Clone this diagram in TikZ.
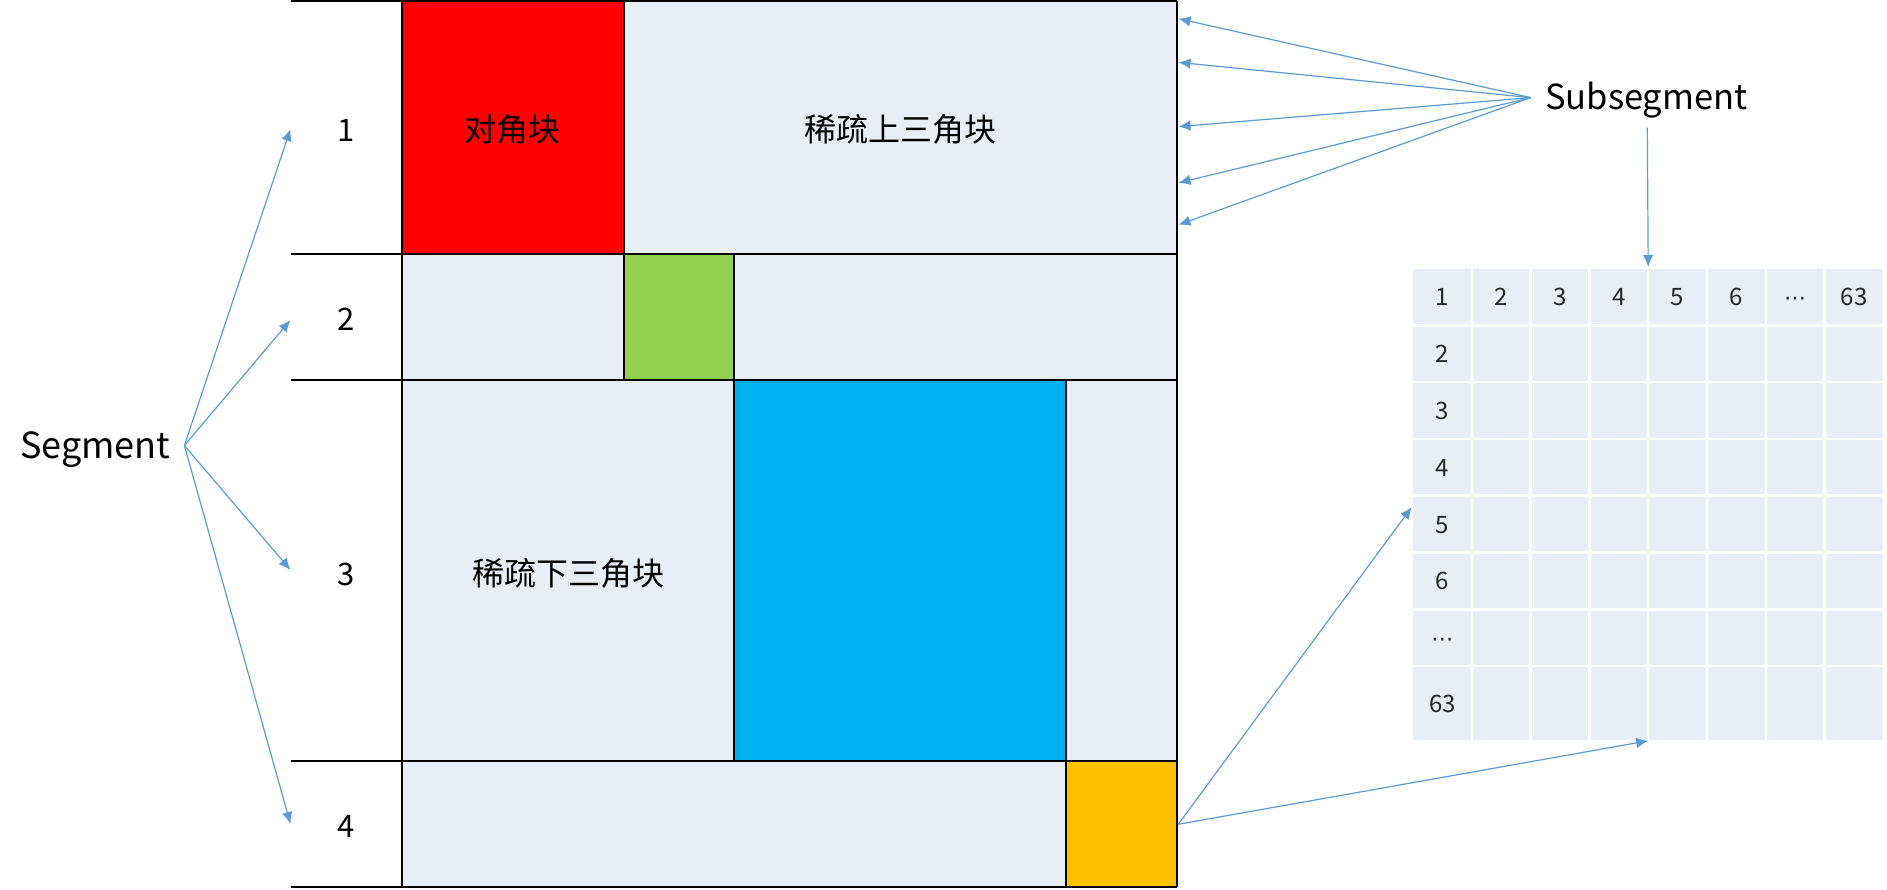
\documentclass[tikz,border=0pt]{standalone}
\usepackage{fontspec}
\setmainfont{Noto Sans CJK SC}
\newfontfamily\dotsfont{DejaVu Sans}
\usetikzlibrary{arrows.meta}
\definecolor{cellfill}{HTML}{E9EDF5}
\definecolor{arrowblue}{HTML}{5B9BD5}
\definecolor{diagred}{HTML}{FF0000}
\definecolor{diaggreen}{HTML}{92D050}
\definecolor{diagblue}{HTML}{00B0F0}
\definecolor{diagorange}{HTML}{FFC000}
\tikzset{
  blkline/.style={draw=black, line width=2pt},
  conn/.style={draw=arrowblue, line width=1.2pt, -{Latex[length=12pt,width=10.5pt]}},
  cjklabel/.style={inner sep=0pt, anchor=base, font=\fontsize{32}{38}\selectfont},
  numlabel/.style={inner sep=0pt, anchor=base, font=\fontsize{31}{36}\selectfont},
  bigword/.style={inner sep=0pt, anchor=base, font=\fontsize{36}{42}\selectfont},
  gridnum/.style={inner sep=0pt, anchor=base, font=\fontsize{24}{28}\selectfont, text=black!85},
}
\begin{document}
\begin{tikzpicture}[x=1pt,y=-1pt]
\useasboundingbox (0,0) rectangle (1887,889);

% ---- matrix cells
\fill[diagred]    (402,1) rectangle (623.5,254);
\fill[cellfill]   (623.5,1) rectangle (1177,254);
\fill[cellfill]   (402,254) rectangle (623.5,380);
\fill[diaggreen]  (623.5,254) rectangle (734,380);
\fill[cellfill]   (734,254) rectangle (1177,380);
\fill[cellfill]   (402,380) rectangle (734,761);
\fill[diagblue]   (734,380) rectangle (1066,761);
\fill[cellfill]   (1066,380) rectangle (1177,761);
\fill[cellfill]   (402,761) rectangle (1066,887);
\fill[diagorange] (1066,761) rectangle (1177,887);

% ---- matrix lines
\foreach \yy in {1,254,380,761,887} \draw[blkline] (291,\yy) -- (1177,\yy);
\draw[blkline] (402,1) -- (402,887);
\draw[blkline] (1177,1) -- (1177,887);
\draw[blkline] (623.5,1) -- (623.5,380);
\draw[blkline] (734,254) -- (734,761);
\draw[blkline] (1066,380) -- (1066,887);

% ---- labels in the matrix
\node[cjklabel] (diag) at (512,141.6) {对角块};
\node[cjklabel] (upper) at (900,141.6) {稀疏上三角块};
\node[cjklabel] (lower) at (568.5,585.6) {稀疏下三角块};

\node[numlabel] (s1) at (346,141) {1};
\node[numlabel] (s2) at (346,330.5) {2};
\node[numlabel] (s3) at (346,585) {3};
\node[numlabel] (s4) at (346,837.5) {4};

% ---- Segment
\node[bigword] (seg) at (95.3,458.7) {Segment};
\coordinate (segfrom) at (184.4,445.5);
\coordinate (segto1) at (290.5,129);
\coordinate (segto2) at (290.5,320);
\coordinate (segto3) at (290.5,570);
\coordinate (segto4) at (290.5,824);
\foreach \t in {segto1,segto2,segto3,segto4} \draw[conn] (segfrom) -- (\t);

% ---- Subsegment
\node[bigword, font=\fontsize{34.5}{40}\selectfont] (subseg) at (1646.3,109.3) {Subsegment};
\coordinate (subfrom) at (1530.7,97.6);
\coordinate (subto1) at (1178.5,18.7);
\coordinate (subto2) at (1178.5,62.4);
\coordinate (subto3) at (1178.5,126.6);
\coordinate (subto4) at (1178.5,182.8);
\coordinate (subto5) at (1178.5,224.8);
\foreach \t in {subto1,subto2,subto3,subto4,subto5} \draw[conn] (subfrom) -- (\t);

% ---- grid
\fill[cellfill] (1413,268.5) rectangle (1883.4,740);
\foreach \i in {1,...,7} \draw[white, line width=2.5pt] (1413+58.8*\i,268.5) -- (1413+58.8*\i,740);
\foreach \j in {1,...,7} \draw[white, line width=2.5pt] (1413,268.5+56.8*\j) -- (1883.4,268.5+56.8*\j);

\node[gridnum] (c1) at (1442.4,305.9) {1};
\node[gridnum] (c2) at (1501.2,305.9) {2};
\node[gridnum] (c3) at (1560.0,305.9) {3};
\node[gridnum] (c4) at (1618.8,305.9) {4};
\node[gridnum] (c5) at (1677.6,305.9) {5};
\node[gridnum] (c6) at (1736.4,305.9) {6};
\node[gridnum, font=\dotsfont\fontsize{22}{26}\selectfont] (c7) at (1795.2,305.9) {⋯};
\node[gridnum] (c8) at (1854.0,305.9) {63};

\node[gridnum] (r2) at (1442.4,362.7) {2};
\node[gridnum] (r3) at (1442.4,419.5) {3};
\node[gridnum] (r4) at (1442.4,476.3) {4};
\node[gridnum] (r5) at (1442.4,533.1) {5};
\node[gridnum] (r6) at (1442.4,589.9) {6};
\node[gridnum, font=\dotsfont\fontsize{22}{26}\selectfont] (r7) at (1442.4,646.7) {⋯};
\node[gridnum] (r8) at (1442.4,712) {63};

\coordinate (downfrom) at (1647.3,127.7);
\coordinate (downto) at (1648.2,267);
\draw[conn] (downfrom) -- (downto);

\coordinate (orfrom) at (1178.2,824.3);
\coordinate (orto1) at (1411.8,507);
\coordinate (orto2) at (1648.2,740.8);
\draw[conn] (orfrom) -- (orto1);
\draw[conn] (orfrom) -- (orto2);
\end{tikzpicture}
\end{document}
